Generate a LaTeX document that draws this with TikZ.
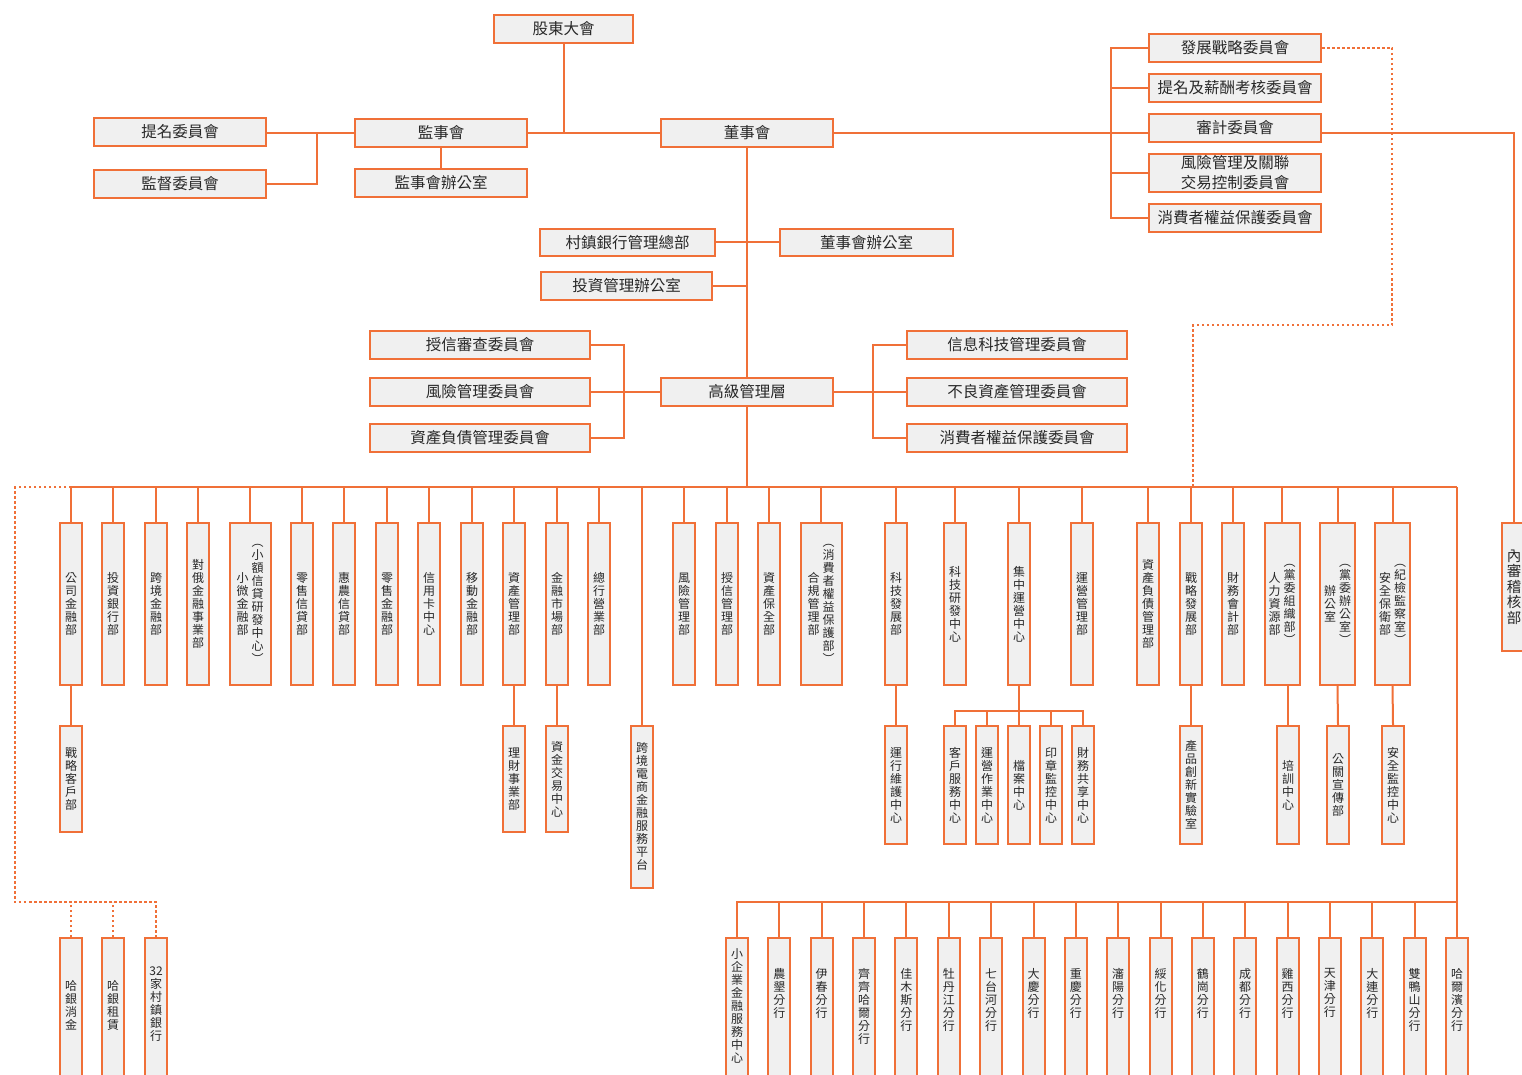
\documentclass[tikz,border=0pt]{standalone}
\usepackage{fontspec}
\newfontfamily\cjk{Noto Sans CJK TC}
\definecolor{orc}{RGB}{240,112,56}
\definecolor{bf}{RGB}{240,240,240}
\definecolor{tx}{RGB}{40,40,40}
\makeatletter
\newcommand\vcol[1]{\vbox{\baselineskip=13pt\lineskip=0pt\lineskiplimit=-20pt\@tfor\vc@c:=#1\do{\hbox to 13pt{\hss\vc@c\hss}}}}
\newcommand\vcolb[1]{\vbox{\baselineskip=15.5pt\lineskip=0pt\lineskiplimit=-20pt\@tfor\vc@c:=#1\do{\hbox to 15pt{\hss\vc@c\hss}}}}
\makeatother
\newcommand\vtwo[2]{$\vcenter{\vcol{#1}}\kern2pt\vcenter{\vcol{#2}}$}
\begin{document}
\begin{tikzpicture}[x=1pt,y=-1pt,
  hb/.style={draw=orc,line width=2pt,fill=bf,minimum width=172pt,minimum height=28pt,inner sep=0pt,text=tx,font=\cjk\fontsize{15.5}{20}\selectfont,align=center},
  vb/.style={draw=orc,line width=2pt,fill=bf,minimum width=22pt,inner sep=0pt,text=tx,font=\cjk\fontsize{12}{13}\selectfont},
  rowa/.style={vb,minimum height=162pt},
  rowaw/.style={rowa,minimum width=41pt},
  rowam/.style={rowa,minimum width=35pt},
  rowb/.style={vb,minimum height=106pt},
  rowc/.style={vb,minimum height=118pt},
  brb/.style={vb,minimum height=180pt,anchor=north},
  btx/.style={inner sep=0pt,text=tx,font=\cjk\fontsize{12}{13}\selectfont,anchor=north},
  conn/.style={draw=orc,line width=2pt},
  dotc/.style={draw=orc,line width=1.8pt,dash pattern=on 2.5pt off 2.5pt}]
\useasboundingbox (0,0) rectangle (1522,1075);
\clip (0,0) rectangle (1522,1075);
\fill[white] (0,0) rectangle (1522,1075);

% top level
\node[hb,minimum width=139pt] (sh) at (563.5,29) {股東大會};
\node[hb] (js) at (441,133) {監事會};
\node[hb] (dsh) at (747,133) {董事會};
\node[hb] (tm) at (180,132) {提名委員會};
\node[hb] (jd) at (180,184) {監督委員會};
\node[hb] (jso) at (441,183) {監事會辦公室};
\node[hb] (c1) at (1235,48) {發展戰略委員會};
\node[hb] (c2) at (1235,88) {提名及薪酬考核委員會};
\node[hb] (c3) at (1235,128) {審計委員會};
\node[hb,minimum height=38pt] (c4) at (1235,173) {風險管理及關聯\\交易控制委員會};
\node[hb] (c5) at (1235,218) {消費者權益保護委員會};
\node[hb,minimum width=175pt,minimum height=27pt] (cz) at (627.5,242.5) {村鎮銀行管理總部};
\node[hb,minimum width=173pt,minimum height=27pt] (dbo) at (866.5,242.5) {董事會辦公室};
\node[hb,minimum width=171pt] (tz) at (626.5,286) {投資管理辦公室};
\node[hb,minimum width=220pt] (m1) at (480,345) {授信審查委員會};
\node[hb,minimum width=220pt] (m2) at (480,392) {風險管理委員會};
\node[hb,minimum width=220pt] (m3) at (480,438) {資產負債管理委員會};
\node[hb] (gj) at (747,392) {高級管理層};
\node[hb,minimum width=220pt] (r1) at (1017,345) {信息科技管理委員會};
\node[hb,minimum width=220pt] (r2) at (1017,392) {不良資產管理委員會};
\node[hb,minimum width=220pt] (r3) at (1017,438) {消費者權益保護委員會};
\node[vb,minimum width=24pt,minimum height=128pt,font=\cjk\fontsize{14.5}{15.5}\selectfont] (nsj) at (1514,587) {\vcolb{內審稽核部}};

% row 1
\node[rowa] (a1) at (71,604) {\vcol{公司金融部}};
\node[rowa] (a2) at (113,604) {\vcol{投資銀行部}};
\node[rowa] (a3) at (156,604) {\vcol{跨境金融部}};
\node[rowa] (a4) at (198,604) {\vcol{對俄金融事業部}};
\node[rowaw] (a5) at (250,604) {\vtwo{小微金融部}{︵小額信貸研發中心︶}};
\node[rowa] (a6) at (302,604) {\vcol{零售信貸部}};
\node[rowa] (a7) at (344,604) {\vcol{惠農信貸部}};
\node[rowa] (a8) at (387,604) {\vcol{零售金融部}};
\node[rowa] (a9) at (429,604) {\vcol{信用卡中心}};
\node[rowa] (a10) at (472,604) {\vcol{移動金融部}};
\node[rowa] (a11) at (514,604) {\vcol{資產管理部}};
\node[rowa] (a12) at (557,604) {\vcol{金融市場部}};
\node[rowa] (a13) at (599,604) {\vcol{總行營業部}};
\node[rowa] (a14) at (684,604) {\vcol{風險管理部}};
\node[rowa] (a15) at (727,604) {\vcol{授信管理部}};
\node[rowa] (a16) at (769,604) {\vcol{資產保全部}};
\node[rowaw] (a17) at (821,604) {\vtwo{合規管理部}{︵消費者權益保護部︶}};
\node[rowa] (a18) at (896,604) {\vcol{科技發展部}};
\node[rowa] (a19) at (955,604) {\vcol{科技研發中心}};
\node[rowa] (a20) at (1019,604) {\vcol{集中運營中心}};
\node[rowa] (a21) at (1082,604) {\vcol{運營管理部}};
\node[rowa] (a22) at (1148,604) {\vcol{資產負債管理部}};
\node[rowa] (a23) at (1191,604) {\vcol{戰略發展部}};
\node[rowa] (a24) at (1233,604) {\vcol{財務會計部}};
\node[rowam] (a25) at (1282,604) {\vtwo{人力資源部}{︵黨委組織部︶}};
\node[rowam] (a26) at (1337.5,604) {\vtwo{辦公室}{︵黨委辦公室︶}};
\node[rowam] (a27) at (1392.5,604) {\vtwo{安全保衛部}{︵紀檢監察室︶}};

% row 2
\node[rowb] (z1) at (71,779) {\vcol{戰略客戶部}};
\node[rowb] (z2) at (514,779) {\vcol{理財事業部}};
\node[rowb] (z3) at (557,779) {\vcol{資金交易中心}};
\node[rowa] (kj) at (642,807) {\vcol{跨境電商金融服務平台}};
\node[rowc] (z4) at (896,785) {\vcol{運行維護中心}};
\node[rowc] (y1) at (955,785) {\vcol{客戶服務中心}};
\node[rowc] (y2) at (987,785) {\vcol{運營作業中心}};
\node[rowc] (y3) at (1019,785) {\vcol{檔案中心}};
\node[rowc] (y4) at (1051,785) {\vcol{印章監控中心}};
\node[rowc] (y5) at (1083,785) {\vcol{財務共享中心}};
\node[rowc] (z5) at (1191,785) {\vcol{產品創新實驗室}};
\node[rowc] (z6) at (1288,785) {\vcol{培訓中心}};
\node[rowc] (z7) at (1338,785) {\vcol{公關宣傳部}};
\node[rowc] (z8) at (1393,785) {\vcol{安全監控中心}};

% row 3 left (dotted)
\node[brb] (s1) at (71,937) {};
\node[brb] (s2) at (113,937) {};
\node[brb] (s3) at (156,937) {};
\node[btx] (s1t) at (71,980) {\vcol{哈銀消金}};
\node[btx] (s2t) at (113,980) {\vcol{哈銀租賃}};
\node[btx] (s3t) at (156,967) {\vcol{{32}家村鎮銀行}};

% row 3 branches
\node[brb] (br1) at (737,937) {};
\node[brb] (br2) at (779.4,937) {};
\node[brb] (br3) at (821.7,937) {};
\node[brb] (br4) at (864.1,937) {};
\node[brb] (br5) at (906.4,937) {};
\node[brb] (br6) at (948.8,937) {};
\node[brb] (br7) at (991.1,937) {};
\node[brb] (br8) at (1033.5,937) {};
\node[brb] (br9) at (1075.8,937) {};
\node[brb] (br10) at (1118.2,937) {};
\node[brb] (br11) at (1160.5,937) {};
\node[brb] (br12) at (1202.9,937) {};
\node[brb] (br13) at (1245.2,937) {};
\node[brb] (br14) at (1287.6,937) {};
\node[brb] (br15) at (1329.9,937) {};
\node[brb] (br16) at (1372.3,937) {};
\node[brb] (br17) at (1414.6,937) {};
\node[brb] (br18) at (1457,937) {};
\node[btx] (bt1) at (br1.north |- 0,948) {\vcol{小企業金融服務中心}};
\node[btx] (bt2) at (br2.north |- 0,968) {\vcol{農墾分行}};
\node[btx] (bt3) at (br3.north |- 0,968) {\vcol{伊春分行}};
\node[btx] (bt4) at (br4.north |- 0,968) {\vcol{齊齊哈爾分行}};
\node[btx] (bt5) at (br5.north |- 0,968) {\vcol{佳木斯分行}};
\node[btx] (bt6) at (br6.north |- 0,968) {\vcol{牡丹江分行}};
\node[btx] (bt7) at (br7.north |- 0,968) {\vcol{七台河分行}};
\node[btx] (bt8) at (br8.north |- 0,968) {\vcol{大慶分行}};
\node[btx] (bt9) at (br9.north |- 0,968) {\vcol{重慶分行}};
\node[btx] (bt10) at (br10.north |- 0,968) {\vcol{瀋陽分行}};
\node[btx] (bt11) at (br11.north |- 0,968) {\vcol{綏化分行}};
\node[btx] (bt12) at (br12.north |- 0,968) {\vcol{鶴崗分行}};
\node[btx] (bt13) at (br13.north |- 0,968) {\vcol{成都分行}};
\node[btx] (bt14) at (br14.north |- 0,968) {\vcol{雞西分行}};
\node[btx] (bt15) at (br15.north |- 0,968) {\vcol{天津分行}};
\node[btx] (bt16) at (br16.north |- 0,968) {\vcol{大連分行}};
\node[btx] (bt17) at (br17.north |- 0,968) {\vcol{雙鴨山分行}};
\node[btx] (bt18) at (br18.north |- 0,968) {\vcol{哈爾濱分行}};

% coordinates
\coordinate (jx) at (317,133);
\coordinate (bl) at (71,487);
\coordinate (br) at (1457,487);
\coordinate (brb) at (1457,902);
\coordinate (dl1) at (15,487);
\coordinate (dl2) at (15,902);
\coordinate (d1) at (1392,325);
\coordinate (dz) at (1193,487);
\coordinate (yb) at (1019,711);

% connectors top
\draw[conn] (sh.south) -- (sh.south |- js.east);
\draw[conn] (js.east) -- (dsh.west);
\draw[conn] (js.west) -- (tm.east |- js.west);
\draw[conn] (jx) |- (jd.east);
\draw[conn] (js.south) -- (jso.north);
\draw[conn] (dsh.east) -- (c3.west |- dsh.east);
\draw[conn] (c1.west) -- ++(-37,0) |- (c5.west);
\draw[conn] (c2.west) -- ++(-37,0);
\draw[conn] (c4.west) -- ++(-37,0);
\draw[conn] (c3.east |- dsh.east) -| (nsj.north);
\draw[dotc] (c1.east) -| (d1) -| (dz);
\draw[conn] (dsh.south) -- (gj.north);
\draw[conn] (gj.south) -- (gj.south |- bl);
\draw[conn] (cz.east) -- (cz.east -| dsh.south);
\draw[conn] (dbo.west) -- (dbo.west -| dsh.south);
\draw[conn] (tz.east) -- (tz.east -| dsh.south);
\draw[conn] (gj.west) -- (m2.east);
\draw[conn] (m1.east) -- ++(33,0) |- (m3.east);
\draw[conn] (gj.east) -- (r2.west);
\draw[conn] (r1.west) -- ++(-33,0) |- (r3.west);

% main bus
\draw[conn] (bl) -- (br);
\foreach \i in {1,...,27} {\draw[conn] (a\i.north) -- (a\i.north |- bl);}
\draw[conn] (kj.north) -- (kj.north |- bl);
\draw[dotc] (bl) -- (dl1) -- (dl2) -| (s3.north);
\draw[dotc] (s1.north) -- (s1.north |- dl2);
\draw[dotc] (s2.north) -- (s2.north |- dl2);

% row 2 connectors
\draw[conn] (a1.south) -- (z1.north);
\draw[conn] (a11.south) -- (z2.north);
\draw[conn] (a12.south) -- (z3.north);
\draw[conn] (a18.south) -- (z4.north);
\draw[conn] (a20.south) -- (y3.north);
\draw[conn] (y1.north) -- (y1.north |- yb) -- (y5.north |- yb) -- (y5.north);
\draw[conn] (y2.north) -- (y2.north |- yb);
\draw[conn] (y4.north) -- (y4.north |- yb);
\draw[conn] (a23.south) -- (z5.north);
\draw[conn] (z6.north |- a25.south) -- (z6.north);
\draw[conn] (a26.south) -- (z7.north);
\draw[conn] (a27.south) -- (z8.north);

% branches
\draw[conn] (br) -- (brb) -| (br1.north);
\foreach \i in {2,...,18} {\draw[conn] (br\i.north) -- (br\i.north |- brb);}
\end{tikzpicture}
\end{document}
